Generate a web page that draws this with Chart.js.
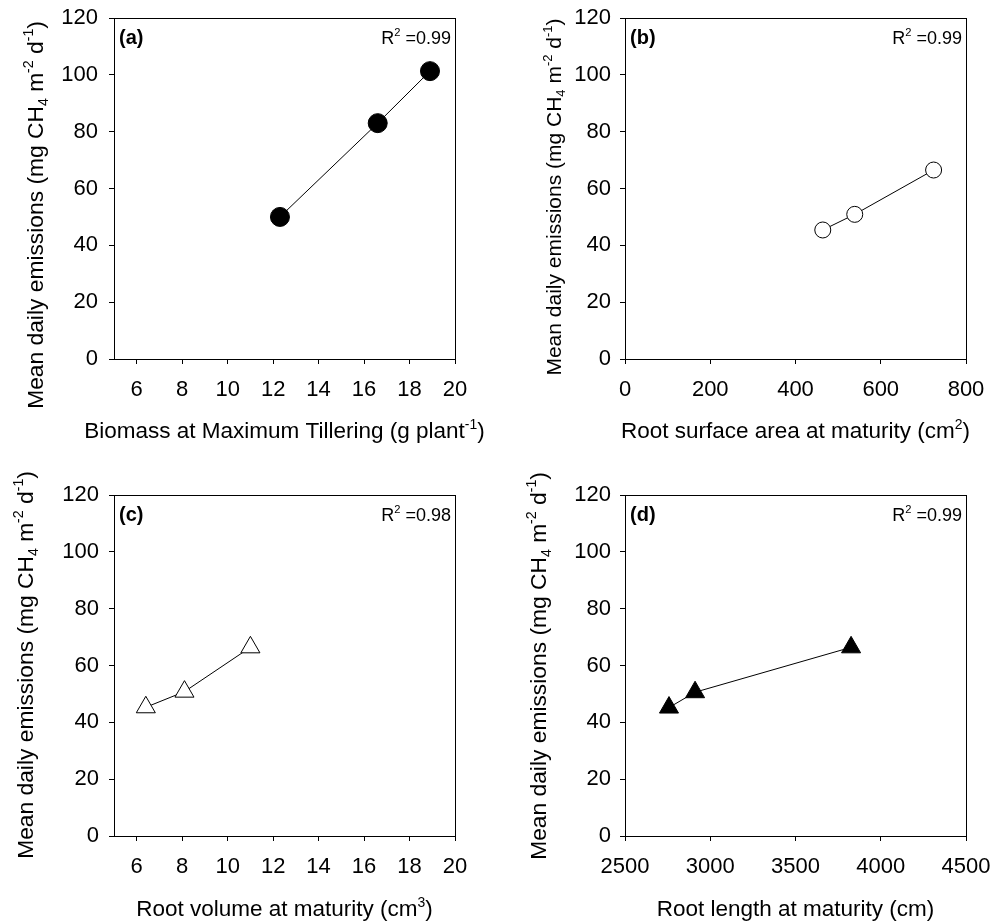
<!DOCTYPE html>
<html>
<head>
<meta charset="utf-8">
<script src="https://cdn.jsdelivr.net/npm/chart.js@4.4.1/dist/chart.umd.min.js"></script>
<style>
  html, body { margin: 0; padding: 0; background: #fff; }
  #fig { position: relative; width: 992px; height: 924px; }
  #fig canvas { position: absolute; }
</style>
</head>
<body>
<div id="fig">
  <canvas id="panelA" width="496" height="462" style="left:0;top:0"></canvas>
  <canvas id="panelB" width="496" height="462" style="left:496px;top:0"></canvas>
  <canvas id="panelC" width="496" height="462" style="left:0;top:462px"></canvas>
  <canvas id="panelD" width="496" height="462" style="left:496px;top:462px"></canvas>
</div>
<script>
// ── Data ──────────────────────────────────────────────────────
const biomassA   = [12.3, 16.6, 18.9];      // g plant-1
const emissionsA = [50.0, 83.0, 101.3];

const surfaceB   = [464, 539, 724];         // cm2
const emissionsB = [45.4, 50.9, 66.5];

const volumeC    = [6.4, 8.1, 11.0];        // cm3
const emissionsC = [45.3, 50.8, 66.4];

const lengthD    = [2758, 2911, 3826];      // cm
const emissionsD = [45.2, 50.6, 66.4];

const yTicks    = [0, 20, 40, 60, 80, 100, 120];
const xTicksAC  = [6, 8, 10, 12, 14, 16, 18, 20];
const xTicksB   = [0, 200, 400, 600, 800];
const xTicksD   = [2500, 3000, 3500, 4000, 4500];
const r2Values  = ['0.99', '0.99', '0.98', '0.99'];
const tags      = ['(a)', '(b)', '(c)', '(d)'];

const FONT = "'Liberation Sans', Arial, Helvetica, sans-serif";
const W = 496, H = 462;

const yTitleRuns = [
    ['Mean daily emissions (mg CH', ''], ['4', 'sub'], [' m', ''], ['-2', 'sup'],
    [' d', ''], ['-1', 'sup'], [')', '']
];

// ── Rich text helpers (super/subscripts) ─────────────────────
function runFont(size, kind, weight) {
    const s = kind ? size * 0.62 : size;
    return (weight || 'normal') + ' ' + s + 'px ' + FONT;
}

function measureRich(ctx, runs, size, weight) {
    let w = 0;
    runs.forEach(([t, k]) => {
        ctx.font = runFont(size, k, weight);
        w += ctx.measureText(t).width;
    });
    return w;
}

function drawRich(ctx, runs, x, y, size, weight) {
    ctx.textBaseline = 'alphabetic';
    ctx.textAlign = 'left';
    runs.forEach(([t, k]) => {
        ctx.font = runFont(size, k, weight);
        let dy = 0;
        if (k === 'sup') dy = -0.42 * size;
        if (k === 'sub') dy = 0.2 * size;
        ctx.fillText(t, x, y + dy);
        x += ctx.measureText(t).width;
    });
}

// ── Frame, labels and titles ─────────────────────────────────
function decorPlugin(p, idx) {
    return {
        id: 'decor' + idx,
        afterDraw(chart) {
            const c = chart.ctx;
            const a = chart.chartArea;
            c.save();
            c.fillStyle = '#000';
            c.strokeStyle = '#000';
            c.lineWidth = 1;
            const l = Math.round(a.left), t = Math.round(a.top);
            const r = Math.round(a.right), b = Math.round(a.bottom);
            c.strokeRect(l + 0.5, t + 0.5, r - l, b - t);

            // panel tag
            drawRich(c, [[tags[idx], '']], l + 5, t + 26, 20, 'bold');

            // R squared
            const r2 = [['R', ''], ['2', 'sup'], [' =' + r2Values[idx], '']];
            const rw = measureRich(c, r2, 18);
            drawRich(c, r2, r - 4 - rw, t + 26, 18);

            // x title
            const xw = measureRich(c, p.xTitle, 22.5);
            drawRich(c, p.xTitle, (a.left + a.right) / 2 - xw / 2, p.xTitleY, 22.5);

            // y title (rotated)
            const yw = measureRich(c, yTitleRuns, p.yTitleSize);
            c.translate(p.yTitleX, p.yTitleCY);
            c.rotate(-Math.PI / 2);
            drawRich(c, yTitleRuns, -yw / 2, 0, p.yTitleSize);
            c.restore();
        }
    };
}

function makePanel(p, idx) {
    const el = document.getElementById(p.id);
    new Chart(el, {
        type: 'scatter',
        data: {
            datasets: [{
                data: p.xs.map((x, i) => ({ x: x, y: p.ys[i] })),
                showLine: true,
                tension: 0,
                borderColor: '#000',
                borderWidth: 1,
                pointStyle: p.style,
                pointRadius: p.radius,
                pointHoverRadius: p.radius,
                pointBackgroundColor: p.fill,
                pointBorderColor: '#000',
                pointBorderWidth: 1,
            }],
        },
        options: {
            responsive: false,
            animation: false,
            events: [],
            layout: { padding: { left: 0, top: p.box.top, right: W - p.box.right, bottom: 0 } },
            plugins: { legend: { display: false }, tooltip: { enabled: false } },
            scales: {
                x: {
                    type: 'linear',
                    min: p.xMin,
                    max: p.xMax,
                    afterBuildTicks: s => { s.ticks = p.xTicks.map(v => ({ value: v })); },
                    afterFit: s => {
                        s.height = H - p.box.bottom;
                        s.paddingLeft = 0;
                        s.paddingRight = 0;
                    },
                    grid: { drawOnChartArea: false, drawTicks: true, tickLength: 5, color: '#000', lineWidth: 1 },
                    border: { display: true, color: '#000', width: 1 },
                    ticks: {
                        color: '#000', font: { family: FONT, size: 22 },
                        padding: 13, maxRotation: 0, autoSkip: false,
                        callback: v => String(v),
                    },
                },
                y: {
                    type: 'linear',
                    min: 0,
                    max: 120,
                    afterBuildTicks: s => { s.ticks = yTicks.map(v => ({ value: v })); },
                    afterFit: s => {
                        s.width = p.box.left;
                        s.paddingTop = 0;
                        s.paddingBottom = 0;
                    },
                    grid: { drawOnChartArea: false, drawTicks: true, tickLength: 5, color: '#000', lineWidth: 1 },
                    border: { display: true, color: '#000', width: 1 },
                    ticks: {
                        color: '#000', font: { family: FONT, size: 22 },
                        padding: p.yTickPad, autoSkip: false,
                        callback: v => String(v),
                    },
                },
            },
        },
        plugins: [decorPlugin(p, idx)],
    });
}

const panels = [
    {
        id: 'panelA', xs: biomassA, ys: emissionsA, xMin: 5, xMax: 20, xTicks: xTicksAC,
        style: 'circle', radius: 9.5, fill: '#000',
        box: { left: 114, right: 455, top: 18, bottom: 359 },
        yTickPad: 11, yTitleX: 43, yTitleCY: 215, yTitleSize: 22.8, xTitleY: 438,
        xTitle: [['Biomass at Maximum Tillering (g plant', ''], ['-1', 'sup'], [')', '']],
    },
    {
        id: 'panelB', xs: surfaceB, ys: emissionsB, xMin: 0, xMax: 800, xTicks: xTicksB,
        style: 'circle', radius: 8, fill: '#fff',
        box: { left: 129, right: 470, top: 18, bottom: 359 },
        yTickPad: 9, yTitleX: 65, yTitleCY: 197, yTitleSize: 21, xTitleY: 438,
        xTitle: [['Root surface area at maturity (cm', ''], ['2', 'sup'], [')', '']],
    },
    {
        id: 'panelC', xs: volumeC, ys: emissionsC, xMin: 5, xMax: 20, xTicks: xTicksAC,
        style: 'triangle', radius: 11, fill: '#fff',
        box: { left: 114, right: 455, top: 33, bottom: 374 },
        yTickPad: 10, yTitleX: 33, yTitleCY: 203, yTitleSize: 22.8, xTitleY: 454,
        xTitle: [['Root volume at maturity (cm', ''], ['3', 'sup'], [')', '']],
    },
    {
        id: 'panelD', xs: lengthD, ys: emissionsD, xMin: 2500, xMax: 4500, xTicks: xTicksD,
        style: 'triangle', radius: 11, fill: '#000',
        box: { left: 129, right: 470, top: 33, bottom: 374 },
        yTickPad: 9, yTitleX: 50, yTitleCY: 204, yTitleSize: 22.8, xTitleY: 454,
        xTitle: [['Root length at maturity (cm)', '']],
    },
];

panels.forEach(makePanel);
</script>
</body>
</html>
